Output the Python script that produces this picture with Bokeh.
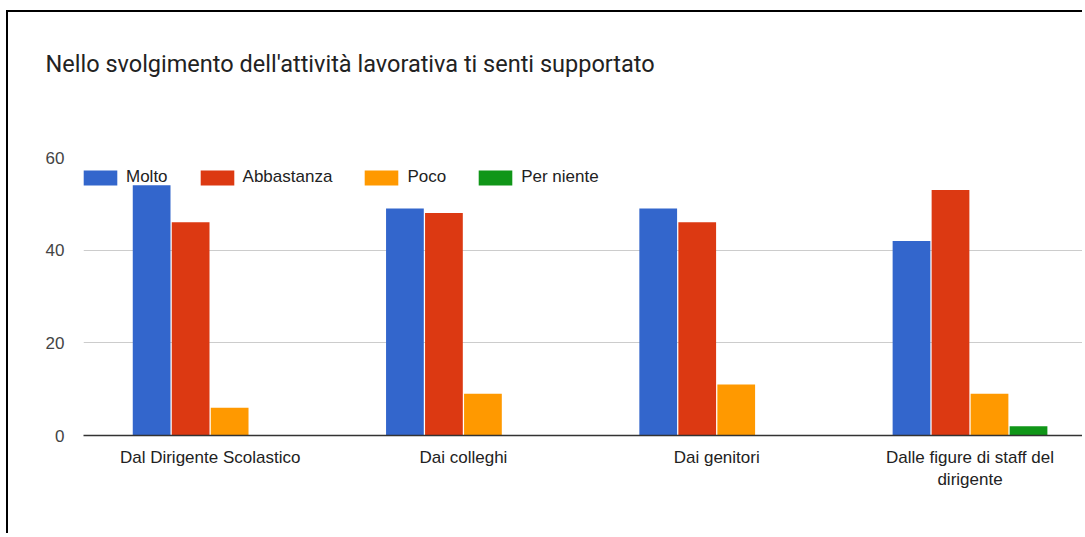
from bokeh.plotting import figure
from bokeh.models import ColumnDataSource, Range1d, FixedTicker, Legend, LegendItem, Title
from bokeh.transform import dodge
from bokeh.embed import file_html
from bokeh.resources import INLINE

chart_title = "Nello svolgimento dell'attività lavorativa ti senti supportato"
categories = [
    "Dal Dirigente Scolastico",
    "Dai colleghi",
    "Dai genitori",
    "Dalle figure di staff del\ndirigente",
]
series = ["Molto", "Abbastanza", "Poco", "Per niente"]
molto = [54, 49, 49, 42]
abbastanza = [46, 48, 46, 53]
poco = [6, 9, 11, 9]
per_niente = [0, 0, 0, 2]
colors = ["#3366cc", "#dc3912", "#ff9900", "#109618"]
y_ticks = [0, 20, 40, 60]

x = list(range(len(categories)))
source = ColumnDataSource(data={
    "x": x,
    "Molto": molto,
    "Abbastanza": abbastanza,
    "Poco": poco,
    "Per niente": per_niente,
})

p = figure(
    width=1076, height=523,
    x_range=Range1d(-0.5, 3.452), y_range=Range1d(0, 60),
    output_backend="svg", toolbar_location=None,
    min_border_left=75, min_border_top=145, min_border_bottom=100, min_border_right=0,
)

step = 0.154
bar_w = 0.149
renderers = []
for i, (name, col) in enumerate(zip(series, colors)):
    off = (i - (len(series) - 1) / 2) * step
    r = p.vbar(x=dodge("x", off, range=p.x_range), top=name, width=bar_w,
               source=source, fill_color=col, line_color=None)
    renderers.append(r)

legend = Legend(
    items=[LegendItem(label=s, renderers=[r]) for s, r in zip(series, renderers)],
    orientation="horizontal", location=(-4, 248),
    glyph_width=42, glyph_height=19, label_standoff=5, spacing=28,
    padding=0, margin=0, border_line_color=None, background_fill_alpha=0,
    label_text_font="Liberation Sans", label_text_font_size="17px",
    label_text_color="#222222",
)
p.add_layout(legend, "center")

# spacer between title and plot area
spacer = Title(text=" ", text_font_size="1px", standoff=42)
p.add_layout(spacer, "above")

p.title.text = chart_title
p.title.text_font = "Roboto"
p.title.text_font_size = "23.5px"
p.title.text_font_style = "normal"
p.title.text_color = "#222222"
p.title.offset = -38
p.title.standoff = 69

p.yaxis.ticker = FixedTicker(ticks=y_ticks)
p.yaxis.axis_line_color = None
p.yaxis.major_tick_line_color = None
p.yaxis.major_tick_out = 0
p.yaxis.major_tick_in = 0
p.yaxis.minor_tick_line_color = None
p.yaxis.major_label_standoff = 19
p.yaxis.major_label_text_font = "Liberation Sans"
p.yaxis.major_label_text_font_size = "17px"
p.yaxis.major_label_text_color = "#444444"

p.xaxis.ticker = FixedTicker(ticks=x)
p.xaxis.major_label_overrides = {i: c for i, c in enumerate(categories)}
p.xaxis.axis_line_color = "#333333"
p.xaxis.axis_line_width = 1.5
p.xaxis.major_tick_line_color = None
p.xaxis.major_tick_out = 0
p.xaxis.major_tick_in = 0
p.xaxis.minor_tick_line_color = None
p.xaxis.major_label_standoff = 12
p.xaxis.major_label_text_font = "Liberation Sans"
p.xaxis.major_label_text_font_size = "17px"
p.xaxis.major_label_text_color = "#222222"

p.xgrid.visible = False
p.ygrid.grid_line_color = "#cccccc"
p.outline_line_color = None

p.styles = {
    "border-left": "2px solid #000000",
    "border-top": "2px solid #000000",
    "margin-left": "6px",
    "margin-top": "10px",
}

html = file_html(p, INLINE, title=chart_title)
with open("out.html", "w", encoding="utf-8") as f:
    f.write(html)
